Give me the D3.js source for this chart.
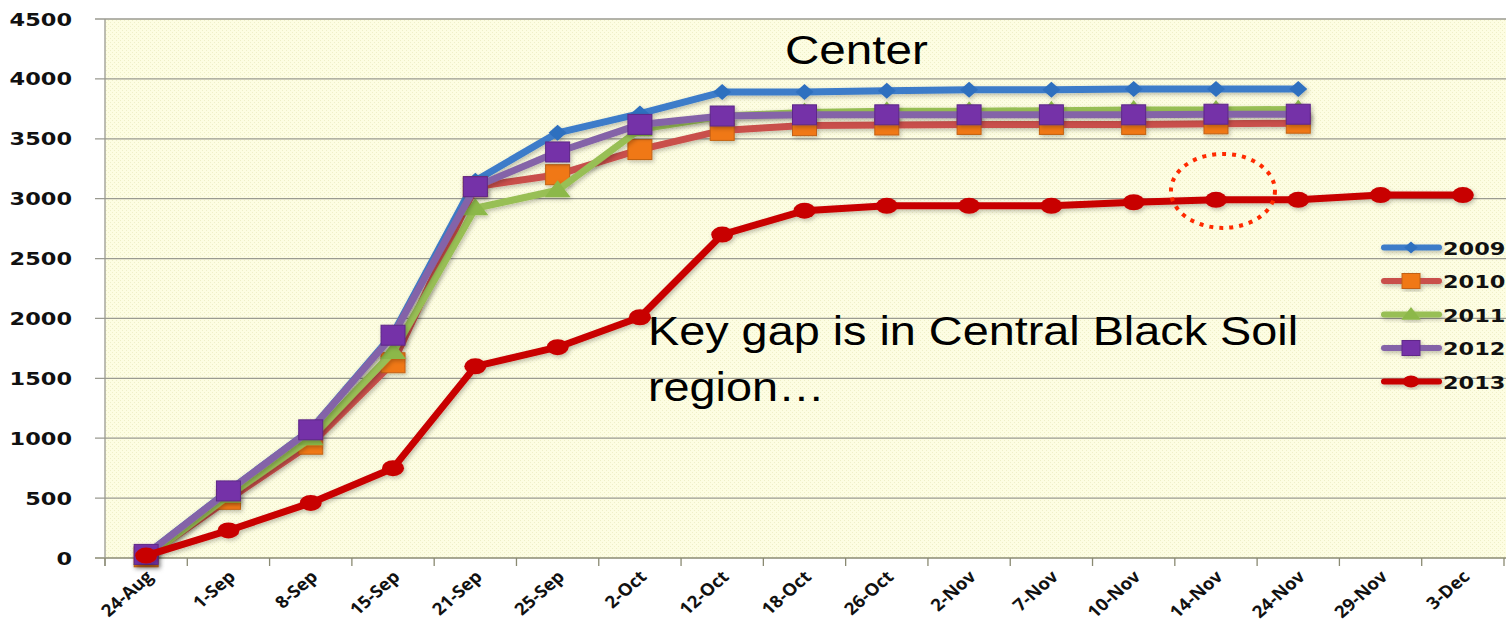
<!DOCTYPE html>
<html>
<head>
<meta charset="utf-8">
<script src="https://cdn.jsdelivr.net/npm/d3@7"></script>
<style>
  body { margin: 0; background: #fff; }
  svg { display: block; }
</style>
</head>
<body>
<div id="chart"></div>
<script>
// Categories (x axis)
var dates = ['24-Aug', '1-Sep', '8-Sep', '15-Sep', '21-Sep', '25-Sep', '2-Oct', '12-Oct', '18-Oct',
    '26-Oct', '2-Nov', '7-Nov', '10-Nov', '14-Nov', '24-Nov', '29-Nov', '3-Dec'];

// Series values
var y2009 = [30, 560, 1070, 1870, 3150, 3550, 3710, 3890, 3890, 3900, 3910, 3910, 3915, 3915, 3915];
var y2010 = [10, 490, 950, 1630, 3100, 3200, 3410, 3570, 3610, 3615, 3620, 3620, 3620, 3625, 3630];
var y2011 = [0, 520, 1000, 1720, 2920, 3070, 3580, 3690, 3720, 3730, 3730, 3735, 3740, 3740, 3745];
var y2012 = [30, 560, 1070, 1860, 3100, 3390, 3620, 3690, 3700, 3700, 3700, 3700, 3700, 3705, 3705];
var y2013 = [20, 230, 460, 750, 1600, 1760, 2010, 2700, 2900, 2940, 2940, 2940, 2970, 2990, 2990, 3030, 3030];

var yTicks = [0, 500, 1000, 1500, 2000, 2500, 3000, 3500, 4000, 4500];

var series = [
    { name: '2009', values: y2009, line: '#3d7cc9', marker: '#2f6fbf', shape: 'diamond' },
    { name: '2010', values: y2010, line: '#c9504c', marker: '#f07818', shape: 'square' },
    { name: '2011', values: y2011, line: '#98bf55', marker: '#8cb84a', shape: 'triangle' },
    { name: '2012', values: y2012, line: '#8464a8', marker: '#7432a8', shape: 'square' },
    { name: '2013', values: y2013, line: '#c80000', marker: '#c80000', shape: 'circle' }
];

var width = 1506, height = 624;
// plot area edges (named to avoid window.top)
var plotLeft = 105, plotRight = 1504, plotTop = 19, plotBottom = 558;

// the source picture is stretched sideways, so text is too
var wideText = 'DejaVu Sans, Verdana, sans-serif';

var svg = d3.select('#chart').append('svg')
    .attr('width', width)
    .attr('height', height);

var defs = svg.append('defs');

// Dotted yellow background
var pattern = defs.append('pattern')
    .attr('id', 'dots')
    .attr('width', 4).attr('height', 4)
    .attr('patternUnits', 'userSpaceOnUse');
pattern.append('rect').attr('width', 4).attr('height', 4).attr('fill', '#fdfde2');
pattern.append('rect').attr('width', 1).attr('height', 1).attr('fill', '#efefc8');
pattern.append('rect').attr('x', 2).attr('y', 2).attr('width', 1).attr('height', 1).attr('fill', '#efefc8');

// Soft shadow under lines and markers
var shadow = defs.append('filter').attr('id', 'shadow')
    .attr('x', '-20%').attr('y', '-20%').attr('width', '140%').attr('height', '140%');
shadow.append('feDropShadow')
    .attr('dx', 1.5).attr('dy', 2).attr('stdDeviation', 2)
    .attr('flood-color', '#000').attr('flood-opacity', 0.25);

var x = d3.scaleBand().domain(dates).range([plotLeft, plotRight]);
var y = d3.scaleLinear().domain([0, 4500]).range([plotBottom, plotTop]);

svg.append('rect')
    .attr('x', plotLeft).attr('y', plotTop)
    .attr('width', width - plotLeft).attr('height', plotBottom - plotTop)
    .attr('fill', 'url(#dots)');

// Horizontal gridlines
svg.append('g')
    .selectAll('line')
    .data(yTicks)
    .enter().append('line')
    .attr('x1', plotLeft - 10).attr('x2', width)
    .attr('y1', function(d) { return y(d); })
    .attr('y2', function(d) { return y(d); })
    .attr('stroke', function(d) { return d === 0 ? '#8a8a72' : '#9a9a90'; })
    .attr('stroke-width', 1.3);

// Y axis line
svg.append('line')
    .attr('x1', plotLeft).attr('x2', plotLeft)
    .attr('y1', plotTop).attr('y2', plotBottom + 8)
    .attr('stroke', '#9a9a90').attr('stroke-width', 1.3);

// Y labels
svg.append('g')
    .selectAll('text')
    .data(yTicks)
    .enter().append('text')
    .attr('transform', function(d) { return 'translate(72,' + (y(d) + 6.5) + ') scale(1.32,1)'; })
    .attr('text-anchor', 'end')
    .attr('font-family', wideText)
    .attr('font-weight', 'bold')
    .attr('font-size', 17)
    .attr('fill', '#111')
    .text(function(d) { return d; });

// X tick marks at band edges
var edges = dates.map(function(d) { return x(d); }).concat([plotRight]);
svg.append('g')
    .selectAll('line')
    .data(edges)
    .enter().append('line')
    .attr('x1', function(d) { return d; }).attr('x2', function(d) { return d; })
    .attr('y1', plotBottom).attr('y2', plotBottom + 8)
    .attr('stroke', '#8a8a72').attr('stroke-width', 1.3);

// X labels, rotated then stretched like the rest of the picture
svg.append('g')
    .selectAll('text')
    .data(dates)
    .enter().append('text')
    .attr('transform', function(d) {
        return 'translate(' + (x(d) + x.bandwidth() / 2 + 8) + ',' + (plotBottom + 20) + ') scale(1.1,1) rotate(-44)';
    })
    .attr('text-anchor', 'end')
    .attr('font-family', 'Open Sans, Liberation Sans, sans-serif')
    .attr('font-weight', 'bold')
    .attr('font-size', 17)
    .attr('fill', '#111')
    .text(function(d) { return d; });

function cx(i) { return x(dates[i]) + x.bandwidth() / 2; }

var line = d3.line()
    .x(function(d, i) { return cx(i); })
    .y(function(d) { return y(d); });

function drawMarker(g, shape, px, py, color, k) {
    if (shape === 'diamond') {
        var rx = 9 * k, ry = 8 * k;
        g.append('path')
            .attr('d', 'M' + px + ',' + (py - ry) + 'L' + (px + rx) + ',' + py + 'L' + px + ',' + (py + ry) + 'L' + (px - rx) + ',' + py + 'Z')
            .attr('fill', color);
    } else if (shape === 'square') {
        var w = 12 * k, h = 10 * k;
        g.append('rect')
            .attr('x', px - w).attr('y', py - h)
            .attr('width', 2 * w).attr('height', 2 * h)
            .attr('fill', color)
            .attr('stroke', d3.color(color).darker(0.6)).attr('stroke-width', 1);
    } else if (shape === 'triangle') {
        var t = 10 * k;
        g.append('path')
            .attr('d', 'M' + px + ',' + (py - t) + 'L' + (px + t * 1.3) + ',' + (py + t * 0.7) + 'L' + (px - t * 1.3) + ',' + (py + t * 0.7) + 'Z')
            .attr('fill', color);
    } else {
        g.append('ellipse')
            .attr('cx', px).attr('cy', py)
            .attr('rx', 11 * k).attr('ry', 8 * k)
            .attr('fill', color);
    }
}

series.forEach(function(s) {
    var g = svg.append('g').attr('filter', 'url(#shadow)');
    g.append('path')
        .datum(s.values)
        .attr('d', line)
        .attr('fill', 'none')
        .attr('stroke', s.line)
        .attr('stroke-width', 7)
        .attr('stroke-linejoin', 'round')
        .attr('stroke-linecap', 'round');
    s.values.forEach(function(v, i) {
        drawMarker(g, s.shape, cx(i), y(v), s.marker, 1);
    });
});

// Legend
var legend = svg.append('g');
series.forEach(function(s, i) {
    var ly = 247.5 + i * 33.5;
    var lg = legend.append('g').attr('filter', 'url(#shadow)');
    lg.append('line')
        .attr('x1', 1384).attr('x2', 1439)
        .attr('y1', ly).attr('y2', ly)
        .attr('stroke', s.line).attr('stroke-width', 6)
        .attr('stroke-linecap', 'round');
    drawMarker(lg, s.shape, 1411, ly, s.marker, 0.75);
    legend.append('text')
        .attr('transform', 'translate(1443,' + (ly + 7) + ') scale(1.32,1)')
        .attr('font-family', wideText)
        .attr('font-weight', 'bold')
        .attr('font-size', 17)
        .attr('fill', '#111')
        .text(s.name);
});

// Annotations
svg.append('text')
    .attr('transform', 'translate(785,64) scale(1.19,1)')
    .attr('font-family', 'Liberation Sans, Arial, sans-serif')
    .attr('font-size', 40)
    .attr('fill', '#000')
    .text('Center');

var note = svg.append('g')
    .attr('transform', 'translate(648,0) scale(1.17,1)');
note.append('text')
    .attr('x', 0).attr('y', 345)
    .attr('font-family', 'Liberation Sans, Arial, sans-serif')
    .attr('font-size', 40)
    .attr('fill', '#000')
    .text('Key gap is in Central Black Soil');
note.append('text')
    .attr('x', 0).attr('y', 401)
    .attr('font-family', 'Liberation Sans, Arial, sans-serif')
    .attr('font-size', 40)
    .attr('fill', '#000')
    .text('region…');

// Dotted highlight around 14-Nov
svg.append('ellipse')
    .attr('cx', cx(13) + 7).attr('cy', y(3065))
    .attr('rx', 52).attr('ry', 37)
    .attr('fill', 'none')
    .attr('stroke', '#ff2a00')
    .attr('stroke-width', 4)
    .attr('stroke-dasharray', '4 6');
</script>
</body>
</html>
